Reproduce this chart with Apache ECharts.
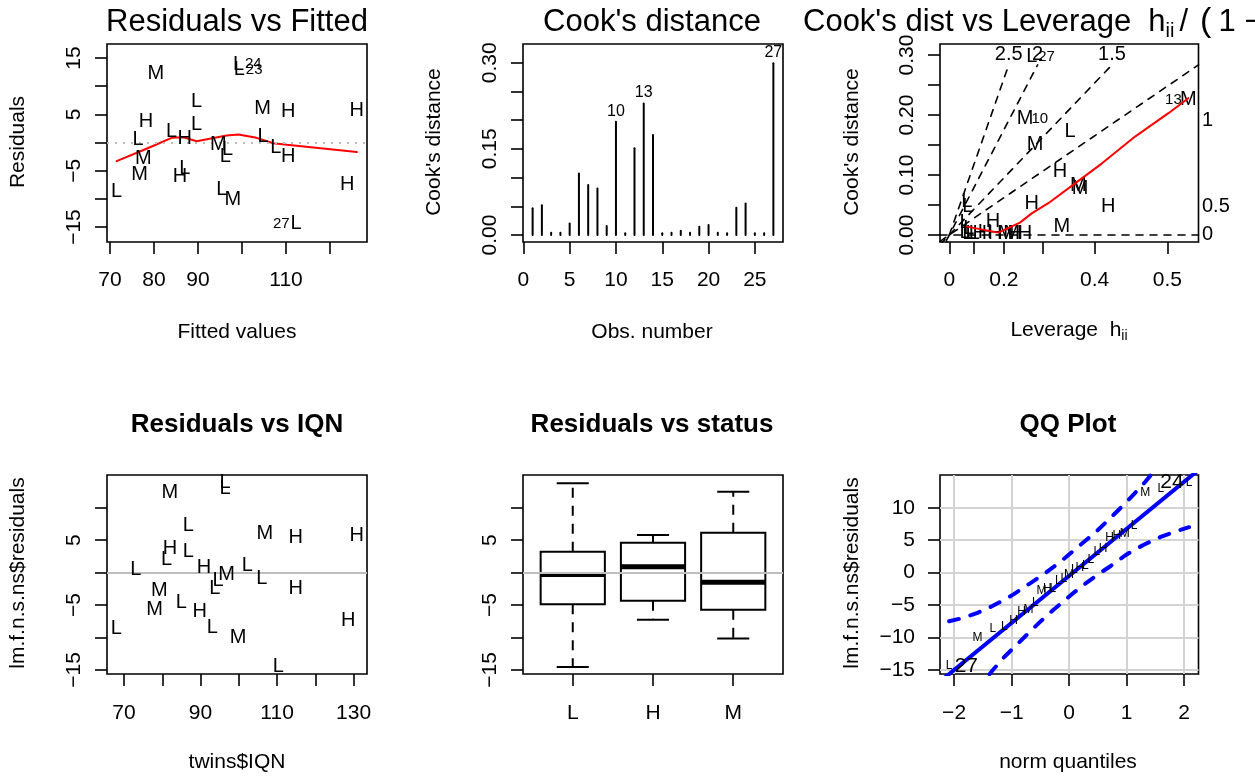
<!DOCTYPE html>
<html>
<head>
<meta charset="utf-8">
<title>lm diagnostics</title>
<script src="https://cdn.jsdelivr.net/npm/echarts@6/dist/echarts.min.js"></script>
<style>
  html, body { margin: 0; padding: 0; background: #fff; }
  #chart { width: 1255px; height: 778px; }
</style>
</head>
<body>
<div id="chart"></div>
<script>
const FONT = '"Liberation Sans", Arial, Helvetica, sans-serif';

// residuals of the model, with status group and the two x variables
const status = ['M','L','L','L','M','H','H','H','L','L','H','L','M','L','L','L','M','H','M','H','L','H','L','L','M','L','L'];
const fittedVals = [80.4, 99.2, 99.4, 89.7, 104.7, 110.5, 126.1, 78.2, 89.7, 84.0, 87.0, 76.4, 94.6, 104.8, 107.7, 96.7, 77.6, 110.5, 76.7, 85.9, 87.0, 123.9, 71.5, 95.4, 97.9, 112.3, 96.2];
const iqn = [82.0, 96.4, 96.4, 86.8, 106.8, 114.9, 130.8, 82.0, 86.8, 81.1, 90.9, 73.1, 96.8, 102.2, 106.0, 94.6, 79.2, 114.9, 78.0, 89.8, 85.0, 128.6, 68.0, 93.1, 99.8, 110.3, 93.7];
const resid = [12.3, 13.9, 12.9, 7.25, 6.0, 5.45, 5.7, 3.65, 3.2, 1.95, 0.75, 0.5, -0.3, 1.05, -0.95, -1.2, -2.75, -2.5, -5.65, -6.0, -4.65, -7.4, -8.65, -8.4, -10.05, -14.4, -2.4];
const idIndex = [1, 2, 25];
const idText = ['24', '23', '27'];
const idPos = ['right', 'right', 'left'];

// smoother in residuals vs fitted
const fitSmoothX = [71.5, 78.3, 84.0, 86.7, 89.7, 96.5, 99.2, 103.3, 107.1, 110.2, 126.1];
const fitSmoothY = [-3.3, -1.1, 0.83, 0.94, 0.23, 1.23, 1.41, 0.83, -0.12, -0.4, -1.7];
const fitTicksX = [70, 80, 90, 100, 110, 120];
const fitLabelsX = [70, 80, 90, 110];
const residTicks = [-15, -10, -5, 0, 5, 10, 15];
const residLabels = [-15, -5, 5, 15];

// Cook's distance per observation
const obsNum = [1,2,3,4,5,6,7,8,9,10,11,12,13,14,15,16,17,18,19,20,21,22,23,24,25,26,27];
const cookD = [0.0465, 0.052, 0.004, 0.004, 0.020, 0.107, 0.087, 0.081, 0.0157, 0.197, 0.003, 0.151, 0.229, 0.174, 0.003, 0.004, 0.0075, 0.004, 0.0145, 0.0174, 0.004, 0.003, 0.0476, 0.055, 0.003, 0.003, 0.299];
const cookIdObs = [10, 13, 27];
const obsTicks = [0, 5, 10, 15, 20, 25];
const cookTicks = [0, 0.05, 0.1, 0.15, 0.2, 0.25, 0.3];
const cookLabels = [0, 0.15, 0.3];

// Cook's distance vs leverage, x is h/(1-h)
const levG = [0.378, 0.347, 0.554, 0.393, 1.096, 0.508, 0.592, 0.600, 0.378, 0.729, 0.516, 0.080, 0.085, 0.200, 0.072, 0.072, 0.100, 0.164, 0.210, 0.286, 0.347, 0.085, 0.115, 0.260, 0.140, 0.090, 0.300];
const levCook = [0.297, 0.194, 0.172, 0.150, 0.225, 0.1056, 0.083, 0.078, 0.053, 0.047, 0.014, 0.055, 0.048, 0.022, 0.020, 0.004, 0.003, 0.004, 0.003, 0.002, 0.003, 0.002, 0.002, 0.003, 0.002, 0.010, 0.002];
const levStatus = ['L','M','L','M','M','H','M','M','H','H','M','L','L','H','L','L','L','H','H','M','H','L','L','M','H','L','H'];
const levIdIndex = [0, 1, 4];
const levIdText = ['27', '10', '13'];
const levIdPos = ['right', 'right', 'left'];
const levSmoothX = [0.08, 0.225, 0.324, 0.378, 0.454, 0.577, 0.699, 0.852, 1.005, 1.096];
const levSmoothY = [0.0139, 0.0039, 0.0206, 0.036, 0.053, 0.086, 0.119, 0.164, 0.203, 0.228];
const levTickH = [0, 0.1, 0.2, 0.3, 0.4, 0.5];
const levLabelH = [0, 0.2, 0.4, 0.5];
const levCookLabels = [0, 0.1, 0.2, 0.3];
const contourSlopes = [0, 0.248, 0.38, 0.7, 1.04];
const contourTop = 0.2835;
const contourTopText = ['1.5', '2', '2.5'];
const contourTopSlope = [0.38, 0.7, 1.04];
const contourRightText = ['0', '0.5', '1'];
const contourRightY = [0, 0.047, 0.19];

// residuals vs IQN
const iqnTicks = [70, 80, 90, 100, 110, 120, 130];
const iqnLabels = [70, 90, 110, 130];
const residTicks2 = [-15, -10, -5, 0, 5, 10];
const residLabels2 = [-15, -5, 5];

// boxplot of residuals by status
const boxCats = ['L', 'H', 'M'];
const boxLow = [-14.55, -7.28, -10.15];
const boxQ1 = [-4.87, -4.35, -5.74];
const boxMed = [-0.3, 0.92, -1.48];
const boxQ3 = [3.23, 4.62, 6.15];
const boxHigh = [13.75, 5.8, 12.46];

// QQ plot
const qqTheo = [-2.086, -1.593, -1.325, -1.128, -0.967, -0.828, -0.704, -0.589, -0.482, -0.380, -0.282, -0.187, -0.093, 0, 0.093, 0.187, 0.282, 0.380, 0.482, 0.589, 0.704, 0.828, 0.967, 1.128, 1.325, 1.593, 2.086];
const qqBandX = [-2.086, -1.855, -1.593, -1.325, -1.128, -0.967, -0.704, -0.482, -0.282, -0.093, 0.093, 0.282, 0.482, 0.704, 0.967, 1.128, 1.325, 1.593, 1.855, 2.086];
const qqUpper = [-7.5, -7.0, -6.2, -5.1, -4.2, -3.35, -1.8, -0.5, 0.8, 2.1, 3.5, 4.9, 6.4, 8.3, 10.6, 12.1, 14.0, 16.9, 19.9, 22.7];
const qqLower = [-23.7, -20.9, -17.9, -15.0, -13.0, -11.6, -9.3, -7.4, -5.8, -4.4, -3.0, -1.7, -0.4, 0.9, 2.6, 3.5, 4.4, 5.5, 6.35, 7.0];
const qqLineA = -0.5;
const qqLineB = 7.25;
const qqTicksX = [-2, -1, 0, 1, 2];
const qqIdRank = [0, 26];
const qqIdText = ['27', '24'];
const qqIdPos = ['right', 'left'];

// axis ranges (R style, 4% padding)
const lim = {
  fitX: [69.32, 128.41], fitY: [-17.66, 17.49],
  obsX: [-0.04, 28.04], cookY: [-0.0122, 0.3326],
  levX: [-0.0427, 1.143], levY: [-0.0117, 0.3183],
  iqnX: [65.55, 133.5], resY: [-15.62, 15.04],
  boxX: [0.38, 3.62], qqX: [-2.245, 2.25]
};

function minus(v) { return String(v).replace('-', '\u2212'); }

function axis(o) {
  return {
    type: 'value', gridIndex: o.grid, min: o.lim[0], max: o.lim[1],
    axisLine: { show: false, onZero: false },
    splitLine: { show: !!o.split, lineStyle: { color: '#d3d3d3', width: 2 } },
    axisTick: { show: true, inside: false, length: 12, customValues: o.ticks, lineStyle: { color: '#000', width: 1.6 } },
    axisLabel: {
      customValues: o.labels, formatter: o.fmt || minus, rotate: o.rotate || 0,
      margin: o.margin, fontSize: 21, fontFamily: FONT, color: '#000'
    }
  };
}

function letters(xi, yi, items, size, z) {
  return {
    type: 'scatter', xAxisIndex: xi, yAxisIndex: yi, data: items, silent: true, clip: false,
    symbolSize: 1, itemStyle: { color: 'rgba(0,0,0,0)' }, z: z || 5,
    label: { show: true, position: 'inside', formatter: '{b}', fontSize: size, fontFamily: FONT,
      color: '#000', opacity: 1, textBorderWidth: 0 }
  };
}

function pathLine(xi, yi, pts, color, width, type, z) {
  return {
    type: 'line', xAxisIndex: xi, yAxisIndex: yi, data: pts, symbol: 'none', silent: true,
    lineStyle: { color: color, width: width, type: type || 'solid', cap: 'round' }, z: z || 3
  };
}

function zeroLine(xi, yi, type) {
  return {
    type: 'line', xAxisIndex: xi, yAxisIndex: yi, data: [], silent: true, z: 8,
    markLine: {
      silent: true, symbol: ['none', 'none'], label: { show: false }, animation: false,
      lineStyle: { color: '#bebebe', width: 2, type: type }, data: [{ yAxis: 0 }]
    }
  };
}

const grids = [
  { left: 107, top: 44, width: 260, height: 198 },
  { left: 523, top: 44, width: 260, height: 198 },
  { left: 940, top: 44, width: 258.5, height: 198 },
  { left: 107, top: 475, width: 260, height: 199 },
  { left: 523, top: 475, width: 260, height: 199 },
  { left: 940, top: 475, width: 258.5, height: 199 }
].map(g => Object.assign({ show: true, borderColor: '#000', borderWidth: 1.6, backgroundColor: 'transparent' }, g));

const levTickG = levTickH.map(h => h / (1 - h));
const levLabelG = levLabelH.map(h => h / (1 - h));

const xAxes = [
  axis({ grid: 0, lim: lim.fitX, ticks: fitTicksX, labels: fitLabelsX, margin: 28 }),
  axis({ grid: 1, lim: lim.obsX, ticks: obsTicks, labels: obsTicks, margin: 28 }),
  axis({ grid: 2, lim: lim.levX, ticks: levTickG, labels: levLabelG, margin: 28,
    fmt: v => String(Math.round(v / (1 + v) * 10) / 10) }),
  axis({ grid: 3, lim: lim.iqnX, ticks: iqnTicks, labels: iqnLabels, margin: 29 }),
  axis({ grid: 4, lim: lim.boxX, ticks: [1, 2, 3], labels: [1, 2, 3], margin: 29,
    fmt: v => boxCats[Math.round(v) - 1] }),
  axis({ grid: 5, lim: lim.qqX, ticks: qqTicksX, labels: qqTicksX, margin: 29, split: true })
];

const yAxes = [
  axis({ grid: 0, lim: lim.fitY, ticks: residTicks, labels: residLabels, rotate: 90, margin: 22 }),
  axis({ grid: 1, lim: lim.cookY, ticks: cookTicks, labels: cookLabels, rotate: 90, margin: 22, fmt: v => v.toFixed(2) }),
  axis({ grid: 2, lim: lim.levY, ticks: cookTicks, labels: levCookLabels, rotate: 90, margin: 22, fmt: v => v.toFixed(2) }),
  axis({ grid: 3, lim: lim.resY, ticks: residTicks2, labels: residLabels2, rotate: 90, margin: 22 }),
  axis({ grid: 4, lim: lim.resY, ticks: residTicks2, labels: residLabels2, rotate: 90, margin: 22 }),
  axis({ grid: 5, lim: lim.resY, ticks: residTicks2, labels: residTicks2, margin: 25, split: true })
];

const series = [];

// 1. residuals vs fitted
const p1 = letters(0, 0, fittedVals.map((x, i) => ({ name: status[i], value: [x, resid[i]] })), 20);
p1.markLine = {
  silent: true, symbol: ['none', 'none'], label: { show: false }, animation: false,
  lineStyle: { color: '#bebebe', width: 2, type: [2, 6] }, data: [{ yAxis: 0 }]
};
series.push(p1);
series.push(pathLine(0, 0, fitSmoothX.map((x, i) => [x, fitSmoothY[i]]), '#ff0000', 2));
const p1id = letters(0, 0, idIndex.map((k, j) => ({
  name: idText[j], value: [fittedVals[k], resid[k]], label: { position: idPos[j], distance: 6 }
})), 15);
series.push(p1id);

// 2. Cook's distance
series.push({
  type: 'custom', xAxisIndex: 1, yAxisIndex: 1, silent: true,
  data: cookD.map((v, i) => [obsNum[i], v]),
  renderItem: function (params, api) {
    const top = api.coord([api.value(0), api.value(1)]);
    const base = api.coord([api.value(0), 0]);
    return {
      type: 'line', shape: { x1: base[0], y1: base[1], x2: top[0], y2: top[1] },
      style: { stroke: '#000', lineWidth: 2, lineCap: 'round' }
    };
  }
});
const p2id = letters(1, 1, cookIdObs.map(o => ({
  name: String(o), value: [o, cookD[o - 1]], label: { position: 'top', distance: 2 }
})), 16);
series.push(p2id);

// 3. Cook's distance vs leverage
contourSlopes.forEach(s => {
  const x0 = lim.levX[0];
  const x1 = s > 0 ? Math.min(lim.levX[1], contourTop / s) : lim.levX[1];
  series.push(pathLine(2, 2, [[x0, x0 * s], [x1, x1 * s]], '#000', 1.6, [7, 7], 2));
});
series.push(letters(2, 2, contourRightText.map((t, i) => ({
  name: t, value: [lim.levX[1], contourRightY[i]], label: { position: 'right', distance: 3 }
})), 20));
series.push(letters(2, 2, contourTopText.map((t, i) => ({
  name: t, value: [contourTop / contourTopSlope[i], contourTop], label: { position: 'top', distance: 0 }
})), 20));
series.push(letters(2, 2, levG.map((x, i) => ({ name: levStatus[i], value: [x, levCook[i]] })), 20));
series.push(letters(2, 2, levIdIndex.map((k, j) => ({
  name: levIdText[j], value: [levG[k], levCook[k]], label: { position: levIdPos[j], distance: 6 }
})), 15));
series.push(pathLine(2, 2, levSmoothX.map((x, i) => [x, levSmoothY[i]]), '#ff0000', 2, 'solid', 6));

// 4. residuals vs IQN
const p4 = letters(3, 3, iqn.map((x, i) => ({ name: status[i], value: [x, resid[i]] })), 20);
series.push(p4);
series.push(zeroLine(3, 3, 'solid'));

// 5. residuals by status
series.push({
  type: 'custom', xAxisIndex: 4, yAxisIndex: 4, silent: true,
  data: boxCats.map((c, i) => [i + 1, boxLow[i], boxQ1[i], boxMed[i], boxQ3[i], boxHigh[i]]),
  renderItem: function (params, api) {
    const x = api.value(0);
    const lo = api.coord([x, api.value(1)]);
    const q1 = api.coord([x, api.value(2)]);
    const md = api.coord([x, api.value(3)]);
    const q3 = api.coord([x, api.value(4)]);
    const hi = api.coord([x, api.value(5)]);
    const half = api.size([0.4, 0])[0];
    const cx = lo[0];
    const solid = { stroke: '#000', lineWidth: 2 };
    const dashed = { stroke: '#000', lineWidth: 2, lineDash: [10, 8] };
    return {
      type: 'group', children: [
        { type: 'line', shape: { x1: cx, y1: q3[1], x2: cx, y2: hi[1] }, style: dashed },
        { type: 'line', shape: { x1: cx, y1: q1[1], x2: cx, y2: lo[1] }, style: dashed },
        { type: 'line', shape: { x1: cx - half / 2, y1: hi[1], x2: cx + half / 2, y2: hi[1] }, style: solid },
        { type: 'line', shape: { x1: cx - half / 2, y1: lo[1], x2: cx + half / 2, y2: lo[1] }, style: solid },
        { type: 'rect', shape: { x: cx - half, y: q3[1], width: 2 * half, height: q1[1] - q3[1] },
          style: { fill: 'none', stroke: '#000', lineWidth: 2 } },
        { type: 'line', shape: { x1: cx - half, y1: md[1], x2: cx + half, y2: md[1] },
          style: { stroke: '#000', lineWidth: 5 } }
      ]
    };
  }
});
series.push(zeroLine(4, 4, 'solid'));

// 6. QQ plot
const qqOrder = resid.map((r, i) => i).sort((a, b) => resid[a] - resid[b]);
series.push(pathLine(5, 5, qqBandX.map((x, i) => [x, qqUpper[i]]), '#0000ff', 4, [10, 12], 3));
series.push(pathLine(5, 5, qqBandX.map((x, i) => [x, qqLower[i]]), '#0000ff', 4, [10, 12], 3));
series.push(pathLine(5, 5, lim.qqX.map(x => [x, qqLineA + qqLineB * x]), '#0000ff', 4, 'solid', 3));
series.push(letters(5, 5, qqTheo.map((q, k) => ({ name: status[qqOrder[k]], value: [q, resid[qqOrder[k]]] })), 12));
series.push(letters(5, 5, qqIdRank.map((k, j) => ({
  name: qqIdText[j], value: [qqTheo[k], resid[qqOrder[k]]], label: { position: qqIdPos[j], distance: 5 }
})), 21));

// titles and axis titles
function txt(t, x, y, size, opts) {
  opts = opts || {};
  return {
    type: 'text', x: x, y: y, rotation: opts.rot ? Math.PI / 2 : 0, silent: true,
    style: {
      text: t, fill: '#000', align: opts.align || 'center', verticalAlign: 'middle',
      font: (opts.bold ? 'bold ' : '') + size + 'px ' + FONT, rich: opts.rich
    }
  };
}

const graphics = [
  txt('Residuals vs Fitted', 237, 22, 31),
  txt("Cook's distance", 652, 22, 31),
  txt("{a|Cook's dist vs Leverage  h}{s|ii}{p|/}{q|(}{a|1 \u2212 h}{s|ii}{a|)}", 803, 22, 31, {
    align: 'left',
    rich: {
      a: { fontSize: 31, fontFamily: FONT, lineHeight: 38 },
      p: { fontSize: 31, fontFamily: FONT, lineHeight: 38, padding: [0, 0, 0, 5] },
      q: { fontSize: 34, fontFamily: FONT, lineHeight: 38, padding: [0, 7, 0, 12] },
      s: { fontSize: 20, fontFamily: FONT, verticalAlign: 'bottom', lineHeight: 20 }
    }
  }),
  txt('Residuals vs IQN', 237, 425, 26, { bold: true }),
  txt('Residuals vs status', 652, 425, 26, { bold: true }),
  txt('QQ Plot', 1068, 425, 26, { bold: true }),
  txt('Fitted values', 237, 332, 21),
  txt('Obs. number', 652, 332, 21),
  txt('{a|Leverage  h}{s|ii}', 1069, 330, 21, {
    rich: { a: { fontSize: 21, fontFamily: FONT, lineHeight: 26 }, s: { fontSize: 14, fontFamily: FONT, verticalAlign: 'bottom', lineHeight: 14 } }
  }),
  txt('twins$IQN', 237, 762, 21),
  txt('norm quantiles', 1068, 762, 21),
  txt('Residuals', 18, 142, 21, { rot: true }),
  txt("Cook's distance", 434, 142, 21, { rot: true }),
  txt("Cook's distance", 852, 142, 21, { rot: true }),
  txt('lm.f.n.s.ns$residuals', 18, 573, 21, { rot: true }),
  txt('lm.f.n.s.ns$residuals', 852, 573, 21, { rot: true })
];

const chart = echarts.init(document.getElementById('chart'), null, { renderer: 'canvas' });
chart.setOption({
  animation: false,
  backgroundColor: '#fff',
  textStyle: { fontFamily: FONT },
  grid: grids,
  xAxis: xAxes,
  yAxis: yAxes,
  series: series,
  graphic: { elements: graphics }
});
</script>
</body>
</html>
